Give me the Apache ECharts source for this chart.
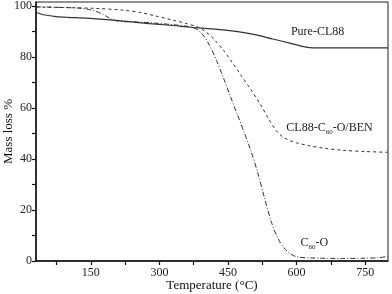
<!DOCTYPE html>
<html><head><meta charset="utf-8">
<script src="https://cdn.jsdelivr.net/npm/echarts@6/dist/echarts.min.js"></script>
<style>html,body{margin:0;padding:0;background:#fff}#c{width:392px;height:294px}</style>
</head><body><div id="c"></div>
<script>
const xTickValues = [75,150,225,300,375,450,525,600,675,750];
const xLabelValues = [150,300,450,600,750];
const yTickValues = [0,10,20,30,40,50,60,70,80,90,100];
const yLabelValues = [0,20,40,60,80,100];

const pureCL88 = [[31,97.4],[50,96.4],[74,95.8],[100,95.5],[140,95.2],[200,94.4],[249,93.5],[292,92.8],[330,92.3],[367,91.6],[400,91.2],[439,90.6],[475,89.8],[512,88.6],[548,87.0],[585,85.4],[610,84.2],[628,83.6],[650,83.5],[700,83.5],[750,83.5],[800,83.5]];
const blend = [[31,99.5],[100,99.3],[160,99.0],[220,98.3],[260,97.3],[292,96.0],[330,94.4],[360,93.0],[385,91.6],[403,89.6],[420,86.8],[440,82.6],[460,77.6],[480,72.4],[500,67.2],[520,61.6],[540,55.4],[555,51.2],[570,48.6],[585,47.2],[600,46.3],[630,45.1],[660,44.2],[700,43.4],[750,42.9],[800,42.6]];
const c60o = [[31,99.6],[80,99.4],[123,99.1],[150,98.4],[170,97.2],[185,95.8],[200,94.4],[220,93.8],[249,93.7],[292,93.2],[330,92.6],[360,92.0],[380,91.0],[395,88.6],[410,84.4],[425,78.6],[440,71.8],[455,64.6],[470,57.6],[485,50.6],[500,43.2],[515,34.6],[530,24.6],[545,15.2],[560,8.6],[575,4.6],[590,2.4],[605,1.5],[630,1.2],[700,1.0],[750,1.1],[780,1.3],[800,1.8]];

const chart = echarts.init(document.getElementById('c'));
const font = 'Liberation Serif';
chart.setOption({
  animation:false,
  grid:{left:36,right:4,top:2,bottom:33,show:true,borderColor:'#222',borderWidth:1,containLabel:false,outerBoundsMode:'none'},
  xAxis:{type:'value',min:30,max:800,
    name:'Temperature (°C)',nameLocation:'middle',nameGap:18,nameMoveOverlap:false,
    nameTextStyle:{fontFamily:font,fontSize:13,color:'#111'},
    axisLine:{show:true,onZero:false,lineStyle:{color:'#111',width:1.5}},
    axisTick:{show:true,customValues:xTickValues,length:4,inside:false,lineStyle:{color:'#111',width:1.2}},
    axisLabel:{customValues:xLabelValues,fontFamily:font,fontSize:12,color:'#222',margin:6},
    splitLine:{show:false}},
  yAxis:{type:'value',min:0,max:101.5,
    name:'Mass loss %',nameLocation:'middle',nameGap:21,nameRotate:90,nameMoveOverlap:false,
    nameTextStyle:{fontFamily:font,fontSize:13,color:'#111'},
    axisLine:{show:true,onZero:false,lineStyle:{color:'#111',width:1.5}},
    axisTick:{show:true,customValues:yTickValues,length:4,inside:false,lineStyle:{color:'#111',width:1.2}},
    axisLabel:{customValues:yLabelValues,fontFamily:font,fontSize:12,color:'#222',margin:4},
    splitLine:{show:false}},
  series:[
    {type:'line',data:pureCL88,smooth:0.3,showSymbol:false,lineStyle:{color:'#333',width:1.2,type:'solid'}},
    {type:'line',data:blend,smooth:0.3,showSymbol:false,lineStyle:{color:'#333',width:1,type:[3,3]}},
    {type:'line',data:c60o,smooth:0.3,showSymbol:false,lineStyle:{color:'#333',width:1,type:[5,2,1,2]}}
  ]
});
function place(){
  const p1 = chart.convertToPixel({gridIndex:0},[646,89.8]);
  const p2 = chart.convertToPixel({gridIndex:0},[672,52]);
  const p3 = chart.convertToPixel({gridIndex:0},[639,7]);
  const base = {fontFamily:font,fontSize:12,fill:'#222'};
  const rich = {n:{fontFamily:font,fontSize:12,fill:'#222'},s:{fontFamily:font,fontSize:7,fill:'#222',padding:[8,0,0,0]}};
  chart.setOption({graphic:[
    {type:'text',x:p1[0],y:p1[1],style:Object.assign({text:'Pure-CL88',align:'center',verticalAlign:'middle'},base)},
    {type:'text',x:p2[0],y:p2[1],style:Object.assign({text:'{n|CL88-C}{s|60}{n|-O/BEN}',align:'center',verticalAlign:'middle',rich:rich},base)},
    {type:'text',x:p3[0],y:p3[1],style:Object.assign({text:'{n|C}{s|60}{n|-O}',align:'center',verticalAlign:'middle',rich:rich},base)}
  ]});
}
place();
</script></body></html>
